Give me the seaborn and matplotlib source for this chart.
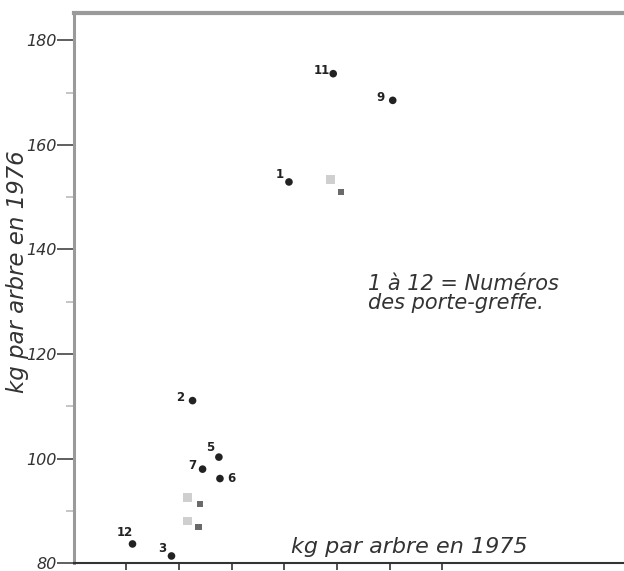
import matplotlib
matplotlib.use("Agg")
import matplotlib.pyplot as plt
import seaborn as sns
import pandas as pd
from matplotlib.ticker import MultipleLocator

labels = ["1", "2", "3", "5", "6", "7", "9", "11", "12"]
kg_1975 = [40.9, 22.6, 18.6, 27.6, 27.8, 24.5, 60.6, 49.3, 11.2]
kg_1976 = [152.9, 111.1, 81.4, 100.3, 96.2, 98.0, 168.5, 173.6, 83.7]

# faint (partly erased) points visible in the scan
ghost_x = [50.8, 24.0, 23.7]
ghost_y = [151.0, 91.3, 86.9]
smudge_x = [48.8, 21.7, 21.7]
smudge_y = [153.3, 92.6, 88.1]

y_ticks = [80, 100, 120, 140, 160, 180]
y_tick_labels = ["80", "100", "120", "140", "160", "180"]
x_ticks = [10, 20, 30, 40, 50, 60, 70]

# label offsets in pixels (dx, dy)
offsets = {"1": (-9, 7), "2": (-12, 3), "3": (-9, 7), "5": (-9, 10), "6": (11, 0),
           "7": (-10, 4), "9": (-12, 3), "11": (-11, 3), "12": (-8, 11)}

df = pd.DataFrame({"x": kg_1975, "y": kg_1976, "label": labels})

sns.set_style("white")
plt.rcParams['font.family'] = ['DejaVu Sans']

fig = plt.figure(figsize=(6.24, 5.71), dpi=100)
ax = fig.add_axes([73.5 / 624, (571 - 563.3) / 571, 1 - 73.5 / 624, (563.3 - 13) / 571])

sns.scatterplot(x=smudge_x, y=smudge_y, color="#c4c4c4", s=40, marker="s",
                edgecolor="none", alpha=0.8, ax=ax, zorder=2)
sns.scatterplot(x=ghost_x, y=ghost_y, color="#6a6a6a", s=22, marker="s",
                edgecolor="none", ax=ax, zorder=3)
sns.scatterplot(data=df, x="x", y="y", color="#222222", s=30, edgecolor="none",
                ax=ax, zorder=4)

for _, r in df.iterrows():
    dx, dy = offsets[r["label"]]
    ax.annotate(r["label"], (r["x"], r["y"]), xytext=(dx, dy), textcoords="offset pixels",
                ha="center", va="center", fontsize=8.5, fontweight="bold", color="#222222")

ax.set_xlim(0, 104.5)
ax.set_ylim(80, 185.2)

ax.set_yticks(y_ticks)
ax.set_yticklabels(y_tick_labels, fontsize=11.5, style="italic", color="#333333")
ax.yaxis.set_minor_locator(MultipleLocator(10))
ax.set_xticks(x_ticks)
ax.set_xticklabels([])

ax.tick_params(axis="y", which="major", direction="out", length=12, width=1.2,
               color="#444444", left=True, pad=0)
ax.tick_params(axis="y", which="minor", direction="out", length=6, width=1.2,
               color="#bbbbbb", left=True)
ax.tick_params(axis="x", which="major", direction="out", length=5, width=1.2,
               color="#333333", bottom=True)

for side in ["left", "top", "bottom", "right"]:
    ax.spines[side].set_visible(True)
ax.spines["right"].set_visible(False)
ax.spines["top"].set_color("#9a9a9a")
ax.spines["top"].set_linewidth(3)
ax.spines["left"].set_color("#9a9a9a")
ax.spines["left"].set_linewidth(2.2)
ax.spines["bottom"].set_color("#333333")
ax.spines["bottom"].set_linewidth(1.5)

ax.set_xlabel("")
ax.set_ylabel("")
# axis titles as drawn in the original
fig.text(18 / 624, 1 - 272 / 571, "kg par arbre en 1976", rotation=90, ha="center",
         va="center", fontsize=16.5, style="italic", color="#333333")
ax.text(0.395, 0.03, "kg par arbre en 1975", transform=ax.transAxes, ha="left",
        va="center", fontsize=16, style="italic", color="#333333")

ax.text(0.535, 0.49, "1 à 12 = Numéros\ndes porte-greffe.", transform=ax.transAxes,
        ha="left", va="center", fontsize=15, style="italic", color="#333333",
        linespacing=0.95)

fig.savefig("out.png", dpi=100, facecolor="white")
